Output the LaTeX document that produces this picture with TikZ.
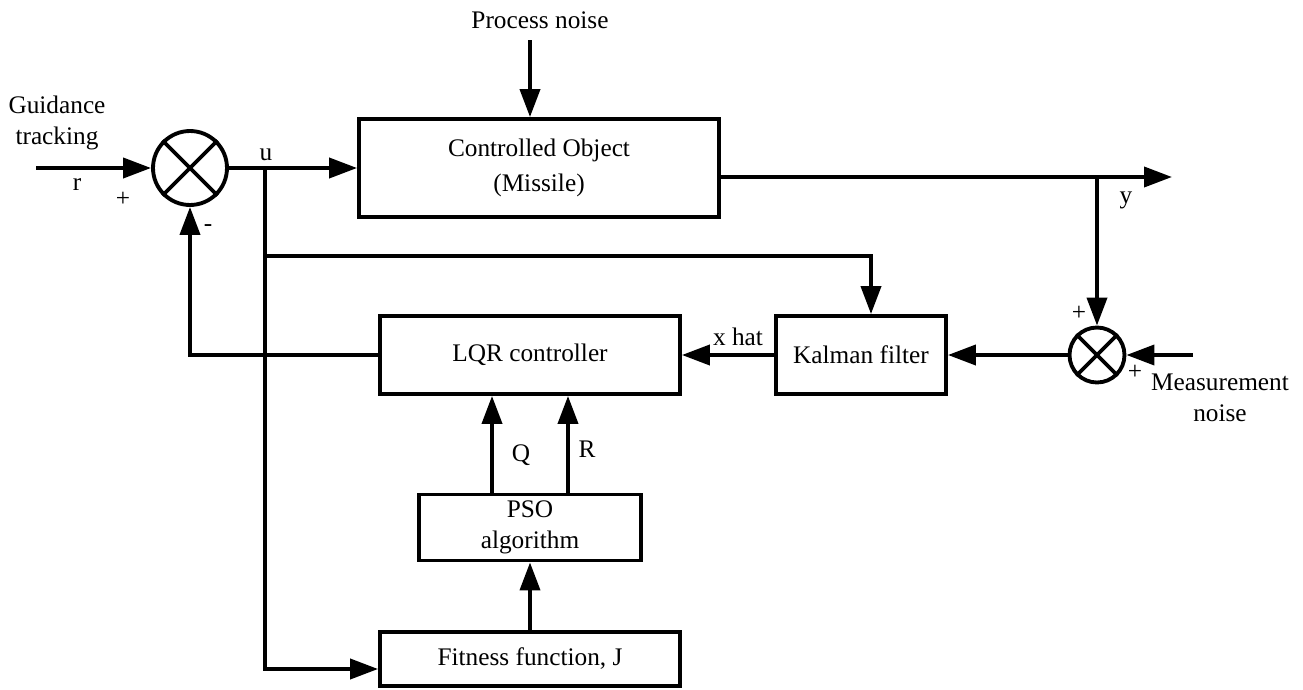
\documentclass[tikz,border=0pt]{standalone}
\usepackage{fontspec}
\setmainfont{Liberation Serif}
\usetikzlibrary{arrows.meta}
\begin{document}
\begin{tikzpicture}[x=0.02cm,y=-0.02cm,
  line width=2.2pt,
  every node/.style={font=\fontsize{14.4}{17.5}\selectfont},
  blk/.style={draw, rectangle, inner sep=0pt, align=center},
  sumj/.style={draw, circle, inner sep=0pt},
  arr/.style={-{Triangle[length=0.56cm,width=0.4cm]}},
  lbl/.style={inner sep=0pt, align=center}]
\useasboundingbox (0,0) rectangle (1303,690);
% blocks
\node[blk, minimum width=7.2cm, minimum height=1.96cm] (plant) at (539,168) {Controlled Object\\[2pt](Missile)};
\node[blk, minimum width=6.0cm, minimum height=1.56cm] (lqr) at (530,355) {LQR controller};
\node[blk, minimum width=3.4cm, minimum height=1.56cm] (kal) at (861,355) {Kalman filter};
\node[blk, minimum width=4.44cm, minimum height=1.32cm] (pso) at (530,527.5) {PSO\\algorithm};
\node[blk, minimum width=6.0cm, minimum height=1.08cm] (fit) at (530,659) {Fitness function, J};
% summing junctions
\node[sumj, minimum size=1.48cm] (s1) at (190,168) {};
\node[sumj, minimum size=1.1cm] (s2) at (1097,355) {};
\draw (s1.45) -- (s1.225) (s1.135) -- (s1.315);
\draw (s2.45) -- (s2.225) (s2.135) -- (s2.315);
% coordinates
\coordinate (rin) at (36,168);
\coordinate (ub) at (265,168);
\coordinate (uk) at (265,256);
\coordinate (yout) at (1172,177);
\coordinate (yb) at (1097,177);
\coordinate (pn) at (530,40);
\coordinate (mn) at (1193,355);
% connectors
\draw[arr] (rin) -- (s1.west);
\draw[arr] (s1.east) -- (plant.west);
\draw[arr] (pn) -- (pn |- plant.north);
\draw[arr] (ub) |- ([yshift=-0.2cm]fit.west);
\draw[arr] (uk) -| ([xshift=0.2cm]kal.north);
\draw[arr] ([yshift=-0.18cm]plant.east) -- (yout);
\draw[arr] (yb) -- (s2.north);
\draw[arr] (mn) -- (s2.east);
\draw[arr] (s2.west) -- (kal.east);
\draw[arr] (kal.west) -- (lqr.east);
\draw[arr] (lqr.west) -| (s1.south);
\draw[arr] ([xshift=-0.76cm]pso.north) -- ([xshift=-0.76cm]lqr.south);
\draw[arr] ([xshift=0.76cm]pso.north) -- ([xshift=0.76cm]lqr.south);
\draw[arr] (fit.north) -- (pso.south);
% labels
\node[lbl] (tpn) at (540,20) {Process noise};
\node[lbl] (tgt) at (57,123) {Guidance\\tracking};
\node[lbl] (tr) at (77,185) {r};
\node[lbl] (tp1) at (123,199) {+};
\node[lbl] (tm1) at (208,228) {-};
\node[lbl] (tu) at (266,155) {u};
\node[lbl] (ty) at (1126,200) {y};
\node[lbl] (tp2) at (1079,313) {+};
\node[lbl] (tp3) at (1135,372) {+};
\node[lbl] (tmn) at (1220,398) {Measurement\\noise};
\node[lbl] (txh) at (738,337) {x hat};
\node[lbl] (tq) at (521,455) {Q};
\node[lbl] (tR) at (587,449) {R};
\end{tikzpicture}
\end{document}
